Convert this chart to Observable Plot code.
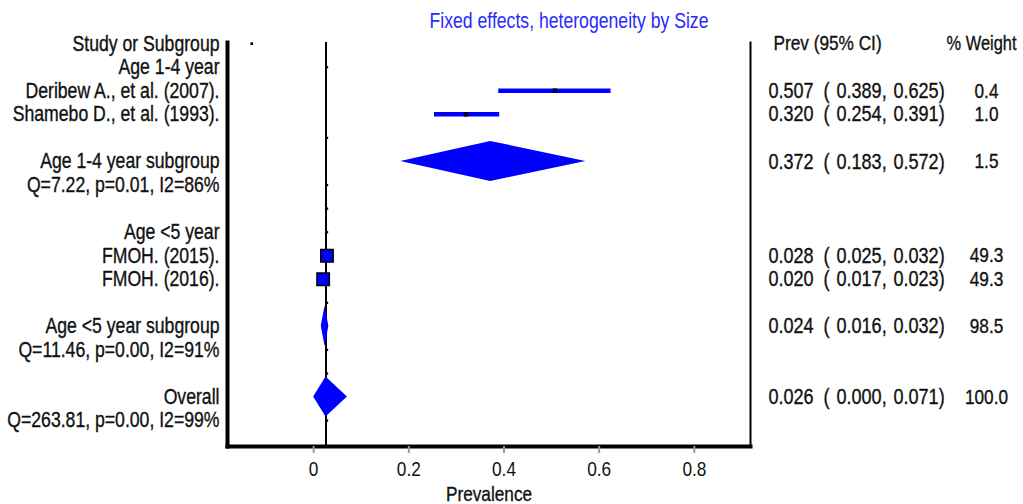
<!DOCTYPE html>
<html><head><meta charset="utf-8">
<script src="https://cdn.jsdelivr.net/npm/d3@7"></script>
<script src="https://cdn.jsdelivr.net/npm/@observablehq/plot@0.6"></script>
<style>
html,body{margin:0;padding:0;background:#fff;}
#chart{width:1023px;height:504px;overflow:hidden;}
</style></head><body><div id="chart"></div>
<script>
// ---- data ----
const rowLabels = [
  "Study or Subgroup", "Age 1-4 year", "Deribew A., et al. (2007).", "Shamebo D., et al. (1993).", "",
  "Age 1-4 year subgroup", "Q=7.22, p=0.01, I2=86%", "",
  "Age <5 year", "FMOH. (2015).", "FMOH. (2016).", "",
  "Age <5 year subgroup", "Q=11.46, p=0.00, I2=91%", "",
  "Overall", "Q=263.81, p=0.00, I2=99%"
];
const studyRows = [2, 3, 9, 10];
const studyEst = [0.507, 0.320, 0.028, 0.020];
const studyLo = [0.389, 0.254, 0.025, 0.017];
const studyHi = [0.625, 0.391, 0.032, 0.023];
const studyWeight = [0.4, 1.0, 49.3, 49.3];
const poolRows = [5, 12, 15];
const poolEst = [0.372, 0.024, 0.026];
const poolLo = [0.183, 0.016, 0.000];
const poolHi = [0.572, 0.032, 0.071];
const poolWeight = [1.5, 98.5, 100.0];
const overallEstimate = 0.026;
const tickRows = [1, 4, 6, 7, 8, 11, 13, 14, 16];
const headerDotX = -0.13;
const xTicks = [0, 0.2, 0.4, 0.6, 0.8];
const titleText = "Fixed effects, heterogeneity by Size";
const xLabel = "Prevalence";
const colHeaders = ["Prev (95% CI)", "% Weight"];

// ---- tables ----
const studies = studyRows.map((r, i) => ({row: r, est: studyEst[i], lo: studyLo[i], hi: studyHi[i], w: studyWeight[i]}));
const pools = poolRows.map((r, i) => ({row: r, est: poolEst[i], lo: poolLo[i], hi: poolHi[i], w: poolWeight[i]}));
const estRows = [...studies, ...pools].map(d => ({
  row: d.row,
  est: d.est.toFixed(3),
  lo: d.lo.toFixed(3) + ",",
  hi: d.hi.toFixed(3) + ")",
  wt: d.w.toFixed(1)
}));
const dh = 0.85;
const diamondPts = pools.flatMap((d, g) => [
  {g, row: d.row - dh, x1: d.est, x2: d.est},
  {g, row: d.row, x1: d.lo, x2: d.hi},
  {g, row: d.row + dh, x1: d.est, x2: d.est}
]);

function fontAvailable(f) {
  const c = document.createElement("canvas").getContext("2d");
  c.font = "21px monospace";
  const a = c.measureText("Study or Subgroup 0.123").width;
  c.font = `21px '${f}', monospace`;
  return c.measureText("Study or Subgroup 0.123").width !== a;
}
const hasNarrow = fontAvailable("Liberation Sans Narrow");
const fam = hasNarrow ? "'Liberation Sans Narrow', 'Liberation Sans', sans-serif" : "'Liberation Sans', Arial, sans-serif";
const ink = "#111";
const txt = {fill: ink, stroke: ink, strokeWidth: 0.35, paintOrder: "stroke"};
const ciTxt = {y: "row", frameAnchor: "right", textAnchor: "start", fontSize: 22, ...txt};

const plot = Plot.plot({
  width: 1023,
  height: 504,
  marginLeft: 227,
  marginRight: 273,
  marginTop: 42,
  marginBottom: 58,
  style: {fontFamily: fam, fontSize: "21px", color: ink, background: "#fff"},
  x: {domain: [-0.181, 0.918], label: null},
  y: {domain: [-0.05, 17.1], reverse: true, axis: null},
  r: {type: "linear", domain: [0, 49.3], range: [1.6, 7]},
  marks: [
    Plot.ruleX([overallEstimate], {stroke: "black", strokeWidth: 2}),
    Plot.dot(tickRows, {x: () => overallEstimate, y: d => d, dx: 1, symbol: "square", r: 1.3, fill: "black"}),
    Plot.dot([0], {x: () => headerDotX, y: d => d, symbol: "square", r: 1.5, fill: "black"}),
    Plot.ruleY(studies, {y: "row", x1: "lo", x2: "hi", stroke: "blue", strokeWidth: 4.5}),
    Plot.areaX(diamondPts, {y: "row", x1: "x1", x2: "x2", z: "g", fill: "blue", curve: "linear"}),
    Plot.dot(studies, {x: "est", y: "row", r: "w", symbol: "square", fill: "blue", stroke: "black", strokeWidth: 1.5}),
    Plot.frame({anchor: "left", stroke: "black", strokeWidth: 4}),
    Plot.frame({anchor: "bottom", stroke: "black", strokeWidth: 4}),
    Plot.frame({anchor: "right", stroke: "black", strokeWidth: 2}),
    Plot.axisX({ticks: xTicks, tickFormat: d3.format("~g"), tickSize: 7, tickPadding: 8, stroke: "#999", strokeWidth: 2, label: null}),
    Plot.text(rowLabels, {y: (d, i) => i, text: d => d, frameAnchor: "left", dx: -8, textAnchor: "end", fontSize: 21.5, ...txt}),
    Plot.text(estRows, {...ciTxt, text: "est", dx: 18}),
    Plot.text(estRows, {...ciTxt, text: () => "(", dx: 73}),
    Plot.text(estRows, {...ciTxt, text: "lo", dx: 86}),
    Plot.text(estRows, {...ciTxt, text: "hi", dx: 143}),
    Plot.text(estRows, {y: "row", text: "wt", frameAnchor: "right", dx: 236, textAnchor: "middle", ...txt}),
    Plot.text([colHeaders[0]], {y: () => 0, text: d => d, frameAnchor: "right", dx: 23, textAnchor: "start", ...txt}),
    Plot.text([colHeaders[1]], {y: () => 0, text: d => d, frameAnchor: "right", dx: 231, textAnchor: "middle", fontSize: 20, ...txt}),
    Plot.text([titleText], {frameAnchor: "top", lineAnchor: "middle", dx: 80, dy: -21, fill: "#2a2aff", fontSize: 21.5}),
    Plot.text([xLabel], {frameAnchor: "bottom", lineAnchor: "middle", dy: 48, ...txt})
  ]
});
document.getElementById("chart").appendChild(plot);
if (!hasNarrow) {
  plot.querySelectorAll("text").forEach(el => {
    const L = el.getComputedTextLength();
    if (L > 0) { el.setAttribute("textLength", L * 0.82); el.setAttribute("lengthAdjust", "spacingAndGlyphs"); }
  });
}
</script>
</body></html>
